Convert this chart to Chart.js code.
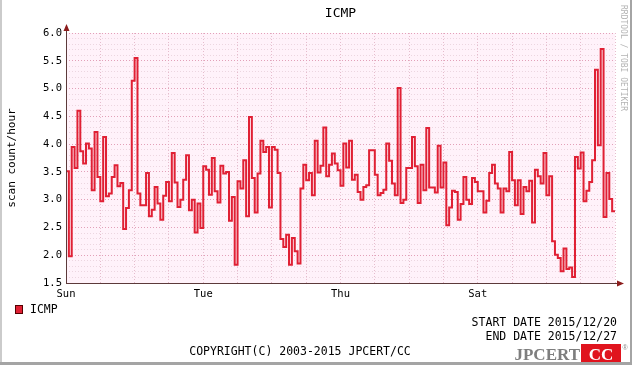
<!DOCTYPE html>
<html>
<head>
<meta charset="utf-8">
<script src="https://cdn.jsdelivr.net/npm/chart.js@4"></script>
<style>
  html, body { margin: 0; padding: 0; background: #fff; }
  #graph { display: block; }
</style>
</head>
<body>
<canvas id="graph" width="632" height="365"></canvas>
<script>
// hourly ICMP scan count, 2015/12/20 00:00 -> 2015/12/27 24:00 (192 hours)
const icmp = [
  3.51, 1.98, 3.95, 3.57, 4.60, 3.87, 3.65, 4.01, 3.92, 3.17, 4.22, 3.41,
  2.97, 4.13, 3.06, 3.11, 3.41, 3.62, 3.24, 3.30, 2.47, 2.85, 3.17, 5.14,
  5.55, 3.11, 2.90, 2.90, 3.48, 2.70, 2.82, 3.23, 2.93, 2.64, 3.07, 3.32,
  2.97, 3.84, 3.31, 2.87, 3.00, 3.36, 3.80, 2.81, 3.00, 2.41, 2.93, 2.49,
  3.60, 3.54, 3.09, 3.75, 3.15, 2.95, 3.61, 3.47, 3.50, 2.62, 3.05, 1.83,
  3.33, 3.20, 3.71, 2.70, 4.49, 3.39, 2.77, 3.47, 4.06, 3.86, 3.95, 2.86,
  3.95, 3.90, 3.48, 2.29, 2.15, 2.37, 1.83, 2.31, 2.07, 1.85, 3.20, 3.63,
  3.35, 3.48, 3.08, 4.06, 3.49, 3.61, 4.30, 3.42, 3.63, 3.83, 3.65, 3.53,
  3.25, 4.01, 3.58, 4.06, 3.36, 3.45, 3.14, 3.00, 3.23, 3.26, 3.89, 3.89,
  3.45, 3.08, 3.12, 3.18, 4.01, 3.70, 3.29, 3.08, 5.01, 2.94, 3.00, 3.57,
  3.57, 4.13, 3.60, 2.94, 3.63, 3.17, 4.29, 3.22, 3.22, 3.13, 3.97, 3.22,
  3.67, 2.54, 2.86, 3.16, 3.14, 2.64, 2.92, 3.41, 3.00, 2.92, 3.39, 3.32,
  3.15, 3.15, 2.77, 2.98, 3.48, 3.63, 3.29, 3.20, 2.77, 3.20, 3.15, 3.86,
  3.35, 2.90, 3.35, 2.74, 3.23, 3.15, 3.34, 2.59, 3.54, 3.42, 3.29, 3.84,
  3.08, 3.42, 2.25, 2.01, 1.95, 1.71, 2.12, 1.75, 1.78, 1.61, 3.77, 3.56,
  3.85, 2.97, 3.16, 3.32, 3.71, 5.34, 3.98, 5.71, 2.69, 3.48, 3.01, 2.79
];
const dayLabels = ["Sun", "Tue", "Thu", "Sat"];   // every 48 hours
const yMin = 1.5, yMax = 6.0;

const RED = "rgb(224,32,52)";
const MONO = '"DejaVu Sans Mono", monospace';

// points at the start of each hour, plus one closing point
const points = icmp.map((v, i) => ({ x: i, y: v }));
points.push({ x: icmp.length, y: icmp[icmp.length - 1] });

function isHalf(v) {
  return Math.abs(v * 2 - Math.round(v * 2)) < 1e-6;
}

const decor = {
  id: "decor",
  beforeDraw(chart) {
    const { ctx, chartArea: a } = chart;
    ctx.save();
    ctx.fillStyle = "#fff";
    ctx.fillRect(0, 0, chart.width, chart.height);
    ctx.fillStyle = "#fff2fa";
    ctx.fillRect(a.left, a.top, a.right - a.left, a.bottom - a.top);
    ctx.restore();
  },
  afterDraw(chart) {
    const { ctx, chartArea: a } = chart;
    ctx.save();

    // axes + arrows
    ctx.strokeStyle = "#5c3a3a";
    ctx.lineWidth = 1;
    ctx.beginPath();
    ctx.moveTo(a.left + 0.5, a.bottom + 0.5);
    ctx.lineTo(a.left + 0.5, a.top - 5);
    ctx.moveTo(a.left, a.bottom + 0.5);
    ctx.lineTo(a.right + 5, a.bottom + 0.5);
    ctx.stroke();
    ctx.fillStyle = "#8c1c1c";
    ctx.beginPath();
    ctx.moveTo(a.left + 0.5, a.top - 9);
    ctx.lineTo(a.left - 2.5, a.top - 2);
    ctx.lineTo(a.left + 3.5, a.top - 2);
    ctx.fill();
    ctx.beginPath();
    ctx.moveTo(a.right + 9, a.bottom + 0.5);
    ctx.lineTo(a.right + 2, a.bottom - 2.5);
    ctx.lineTo(a.right + 2, a.bottom + 3.5);
    ctx.fill();

    // title
    ctx.fillStyle = "#000";
    ctx.font = "13px " + MONO;
    ctx.textAlign = "center";
    ctx.textBaseline = "middle";
    ctx.fillText("ICMP", (a.left + a.right) / 2, 14);

    // y axis label
    ctx.save();
    ctx.translate(12, (a.top + a.bottom) / 2);
    ctx.rotate(-Math.PI / 2);
    ctx.font = "11px " + MONO;
    ctx.fillText("scan count/hour", 0, 0);
    ctx.restore();

    // rrdtool credit
    ctx.save();
    ctx.translate(623, 5);
    ctx.rotate(Math.PI / 2);
    ctx.textAlign = "left";
    ctx.fillStyle = "#b4b4b4";
    ctx.font = "8px " + MONO;
    ctx.fillText("RRDTOOL / TOBI OETIKER", 0, 0);
    ctx.restore();

    // legend
    ctx.fillStyle = RED;
    ctx.fillRect(15, 305, 8, 9);
    ctx.strokeStyle = "#500";
    ctx.strokeRect(15.5, 305.5, 7, 8);
    ctx.fillStyle = "#000";
    ctx.font = "11.5px " + MONO;
    ctx.textAlign = "left";
    ctx.fillText("ICMP", 30, 310);

    ctx.textAlign = "right";
    ctx.fillText("START DATE 2015/12/20", 617, 323);
    ctx.fillText("END DATE 2015/12/27", 617, 337);
    ctx.textAlign = "center";
    ctx.fillText("COPYRIGHT(C) 2003-2015 JPCERT/CC", 300, 352);

    // JPCERT/CC mark
    ctx.textBaseline = "alphabetic";
    ctx.textAlign = "right";
    ctx.fillStyle = "#7e7e7e";
    ctx.font = 'bold 17px "Liberation Serif", serif';
    ctx.fillText("JPCERT", 580, 360);
    ctx.fillStyle = "#e0141e";
    ctx.fillRect(581, 344, 40, 18);
    ctx.fillStyle = "#fff";
    ctx.textAlign = "center";
    ctx.font = 'bold 17px "Liberation Serif", serif';
    ctx.fillText("CC", 601, 360);
    ctx.fillStyle = "#8a8a8a";
    ctx.font = '7px "Liberation Sans", sans-serif';
    ctx.fillText("\u00AE", 625, 350);

    // frame
    ctx.fillStyle = "#cbcbcb";
    ctx.fillRect(0, 0, 2, chart.height);
    ctx.fillStyle = "#a4a4a4";
    ctx.fillRect(chart.width - 2, 0, 2, chart.height);
    ctx.fillRect(0, chart.height - 3, chart.width, 3);
    ctx.restore();
  }
};

new Chart(document.getElementById("graph"), {
  type: "line",
  data: {
    datasets: [{
      label: "ICMP",
      data: points,
      stepped: "before",
      borderColor: RED,
      borderWidth: 2,
      pointRadius: 0,
      fill: false
    }]
  },
  options: {
    responsive: false,
    animation: false,
    events: [],
    layout: { padding: { top: 33, right: 17, left: 0, bottom: 0 } },
    plugins: { legend: { display: false }, title: { display: false }, tooltip: { enabled: false } },
    scales: {
      x: {
        type: "linear",
        min: 0,
        max: icmp.length,
        afterFit: (s) => { s.height = 82; },
        border: { display: false, dash: [1, 2] },
        grid: { color: "#e6bccd", drawTicks: false, lineWidth: 1 },
        ticks: {
          stepSize: 12,
          autoSkip: false,
          maxRotation: 0,
          padding: 5,
          color: "#000",
          font: { family: MONO, size: 10.5 },
          callback: (v) => (v % 48 === 0 && v / 48 < dayLabels.length ? dayLabels[v / 48] : "")
        }
      },
      y: {
        min: yMin,
        max: yMax,
        afterFit: (s) => { s.width = 66; },
        border: { display: false, dash: [1, 2] },
        grid: {
          drawTicks: false,
          lineWidth: 1,
          color: (c) => (c.tick && isHalf(c.tick.value) ? "#e2a0b8" : "#ecd6e0")
        },
        ticks: {
          stepSize: 0.1,
          maxTicksLimit: 100,
          autoSkip: false,
          padding: 4,
          color: "#000",
          font: { family: MONO, size: 10.5 },
          callback: (v) => (isHalf(v) ? v.toFixed(1) : "")
        }
      }
    }
  },
  plugins: [decor]
});
</script>
</body>
</html>
